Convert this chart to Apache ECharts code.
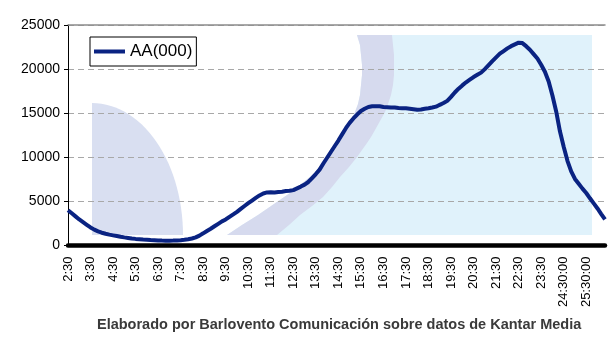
<!DOCTYPE html>
<html>
<head>
<meta charset="utf-8">
<script src="https://cdn.jsdelivr.net/npm/echarts@6/dist/echarts.min.js"></script>
<style>html,body{margin:0;padding:0;background:#fff}#c{width:615px;height:338px}</style>
</head>
<body>
<div id="c"></div>
<script>
// Audience (AA, thousands) every 10 minutes from 2:30 to 26:20
var startMinutes = 150; // 2:30
var stepMinutes = 10;
var seriesName = 'AA(000)';
var values = [
  4000,3650,3300,2950,2650,2350,2050,1800,1600,1450,1330,1230,
  1150,1070,990,920,860,800,750,710,670,640,610,590,
  570,555,545,545,555,570,600,640,700,790,920,1120,
  1380,1650,1900,2180,2460,2740,2950,3250,3530,3820,4150,4480,
  4800,5100,5400,5680,5900,6020,6030,6000,6060,6100,6170,6200,
  6280,6480,6680,6900,7200,7650,8100,8600,9300,9950,10600,11250,
  11900,12600,13300,13900,14400,14850,15250,15500,15700,15780,15800,15780,
  15700,15680,15650,15640,15580,15560,15550,15500,15440,15380,15420,15500,
  15560,15640,15740,15950,16150,16400,16850,17350,17780,18150,18500,18800,
  19100,19350,19600,20000,20450,20900,21330,21750,22050,22350,22600,22800,
  23000,22950,22600,22200,21700,21200,20500,19700,18600,17000,15200,12950,
  11200,9600,8400,7550,7000,6450,5950,5350,4780,4200,3570,2950
];
var tickLabels = ['2:30','3:30','4:30','5:30','6:30','7:30','8:30','9:30','10:30','11:30','12:30','13:30','14:30','15:30','16:30','17:30','18:30','19:30','20:30','21:30','22:30','23:30','24:30:00','25:30:00'];
var yTicks = [0,5000,10000,15000,20000,25000];
var footnote = 'Elaborado por Barlovento Comunicación sobre datos de Kantar Media';

var categories = values.map(function(v,i){
  var m = startMinutes + i*stepMinutes;
  var h = Math.floor(m/60), mm = m%60;
  return h + ':' + (mm<10?'0':'') + mm;
});

// decorative background (slide artwork behind plot)
var innerCurve = [[357,35],[360,45],[361,55],[362,65],[362,75],[361,85],[360,95],[358,104],[355,112],[351,121],[347,130],[343,137],[338,145],[333,152],[327,160],[319,168],[310,177],[300,185],[290,193],[274,204],[258,215],[242,225],[227,235]];
var outerCurve = [[392,35],[393,45],[394,55],[394,65],[394,75],[393,85],[391,95],[388,104],[385,112],[380,121],[375,130],[371,137],[367,143],[362,150],[357,157],[349,167],[340,177],[332,187],[323,197],[312,206],[300,215],[289,225],[277,235]];
var whitePoly = [[92,35]].concat(innerCurve).concat([[92,235]]);
var bandPoly = innerCurve.concat(outerCurve.slice().reverse());
var quarter = [[92,235]];
for (var a=0;a<=90;a+=3){ var r=a*Math.PI/180; quarter.push([92+91*Math.cos(r), 235-132*Math.sin(r)]); }

var ff = '"Liberation Sans", Arial, sans-serif';
var chart = echarts.init(document.getElementById('c'), null, {renderer:'canvas'});
chart.setOption({
  animation:false,
  backgroundColor:'#fff',
  textStyle:{fontFamily:ff},
  grid:{left:68,right:10,top:25,bottom:92.5,containLabel:false},
  legend:{
    data:[{name:seriesName, icon:'rect'}],
    left:90, top:37, padding:[6,4,6,4], itemWidth:31, itemHeight:4,
    borderColor:'#000', borderWidth:1, backgroundColor:'#fff', borderRadius:0,
    textStyle:{fontSize:17, color:'#000', fontFamily:ff}
  },
  graphic:[
    {type:'rect', z:-10, silent:true, shape:{x:92,y:35,width:500,height:200}, style:{fill:'#e0f2fb'}},
    {type:'polygon', z:-9, silent:true, shape:{points:whitePoly}, style:{fill:'#ffffff'}},
    {type:'polygon', z:-9, silent:true, shape:{points:bandPoly}, style:{fill:'#d6daee'}},
    {type:'polygon', z:-9, silent:true, shape:{points:quarter}, style:{fill:'#d9dff1'}},
    {type:'text', left:97, top:317, style:{text:footnote, font:'bold 14.5px '+ff, fill:'#3a3a3a'}}
  ],
  xAxis:[{
    type:'category', data:categories, boundaryGap:false, offset:2,
    axisLine:{show:true, lineStyle:{color:'#000', width:4.5}},
    axisTick:{show:false},
    axisLabel:{
      interval:5, rotate:90, fontSize:13, color:'#000', margin:9, fontFamily:ff,
      formatter:function(v,idx){ return tickLabels[Math.round(idx/6)] || ''; }
    },
    splitLine:{show:false}
  },{
    type:'category', data:categories, boundaryGap:false, position:'top',
    axisLine:{show:true, lineStyle:{color:'#8c8c8c', width:1.5}},
    axisTick:{show:false}, axisLabel:{show:false}, splitLine:{show:false}
  }],
  yAxis:{
    type:'value', min:yTicks[0], max:yTicks[yTicks.length-1], interval:5000,
    axisLine:{show:true, lineStyle:{color:'#000', width:1}},
    axisTick:{show:true, length:4, lineStyle:{color:'#000'}},
    axisLabel:{fontSize:14, color:'#000', margin:8, fontFamily:ff, formatter:function(v){ return String(v); }},
    splitLine:{show:true, lineStyle:{color:'#a8a8a8', type:[6,4], width:1}}
  },
  series:[{
    name:seriesName, type:'line', data:values, showSymbol:false, symbol:'none',
    lineStyle:{color:'#0a2382', width:4}, itemStyle:{color:'#0a2382'}, z:5
  }]
});
</script>
</body>
</html>
